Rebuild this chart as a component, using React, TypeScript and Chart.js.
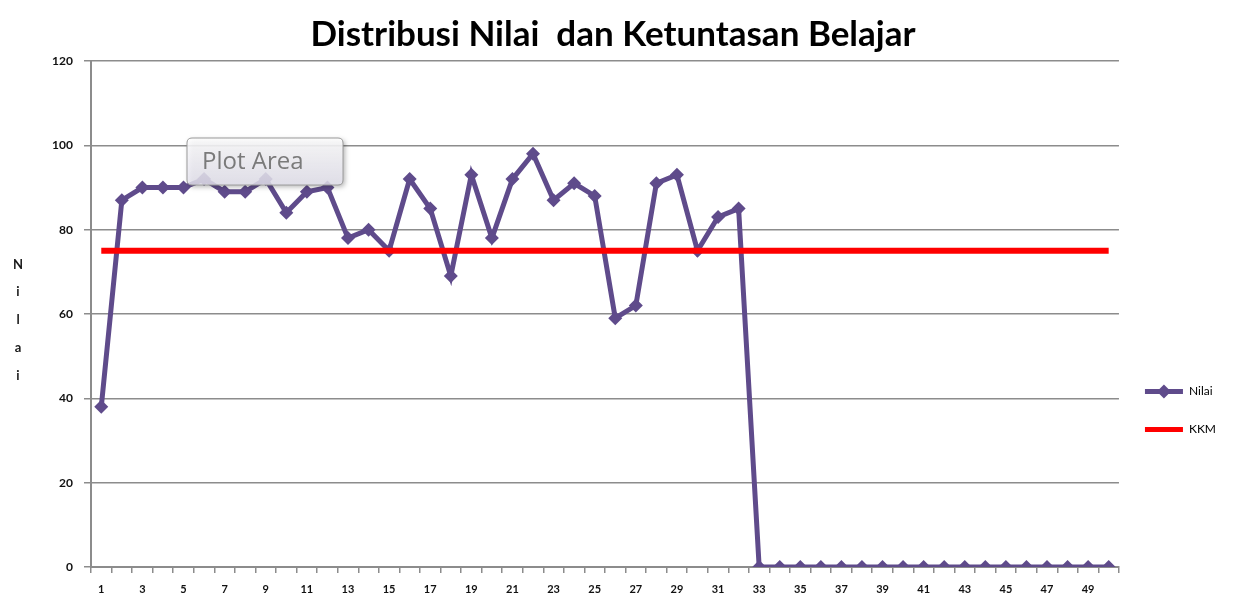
import { useEffect, useRef } from "react";
import { Chart, registerables } from "chart.js";

Chart.register(...registerables);

const categories = [
  "1", "2", "3", "4", "5", "6", "7", "8", "9", "10",
  "11", "12", "13", "14", "15", "16", "17", "18", "19", "20",
  "21", "22", "23", "24", "25", "26", "27", "28", "29", "30",
  "31", "32", "33", "34", "35", "36", "37", "38", "39", "40",
  "41", "42", "43", "44", "45", "46", "47", "48", "49", "50",
];

const nilaiValues = [
  38, 87, 90, 90, 90, 92, 89, 89, 92, 84,
  89, 90, 78, 80, 75, 92, 85, 69, 93, 78,
  92, 98, 87, 91, 88, 59, 62, 91, 93, 75,
  83, 85, 0, 0, 0, 0, 0, 0, 0, 0,
  0, 0, 0, 0, 0, 0, 0, 0, 0, 0,
];

const kkmValues = [
  75, 75, 75, 75, 75, 75, 75, 75, 75, 75,
  75, 75, 75, 75, 75, 75, 75, 75, 75, 75,
  75, 75, 75, 75, 75, 75, 75, 75, 75, 75,
  75, 75, 75, 75, 75, 75, 75, 75, 75, 75,
  75, 75, 75, 75, 75, 75, 75, 75, 75, 75,
];

const yTicks = [0, 20, 40, 60, 80, 100, 120];

const titleText = "Distribusi Nilai  dan Ketuntasan Belajar";
const yAxisTitle = "Nilai";
const seriesNames = ["Nilai", "KKM"];
const hoverLabel = "Plot Area";

const PURPLE = "#5F4B8B";
const RED = "#FF0000";
const GRID = "#8c8c8c";

export default function App() {
  const canvasRef = useRef<HTMLCanvasElement | null>(null);

  useEffect(() => {
    document.body.style.margin = "0";
    const canvas = canvasRef.current;
    if (!canvas) return;

    const customPlugin = {
      id: "customDecor",
      afterLayout(chart: any) {
        const lg = chart.legend;
        if (lg) {
          lg.top += 110;
          lg.bottom += 110;
        }
      },
      afterDraw(chart: any) {
        const ctx = chart.ctx;
        ctx.save();
        // Y axis title, stacked letters
        ctx.fillStyle = "#1a1a1a";
        ctx.font = "bold 13px Lato";
        ctx.textAlign = "center";
        ctx.textBaseline = "middle";
        const letters = yAxisTitle.split("");
        const ys = [265, 292, 320, 348, 376];
        letters.forEach((ch, i) => ctx.fillText(ch, 18, ys[i]));

        // legend marker for Nilai
        const lg = chart.legend;
        if (lg && lg.legendHitBoxes && lg.legendHitBoxes[0]) {
          const hb = lg.legendHitBoxes[0];
          const cx = hb.left + 38 / 2;
          const cy = hb.top + hb.height / 2;
          ctx.fillStyle = PURPLE;
          ctx.beginPath();
          ctx.moveTo(cx, cy - 7);
          ctx.lineTo(cx + 7, cy);
          ctx.lineTo(cx, cy + 7);
          ctx.lineTo(cx - 7, cy);
          ctx.closePath();
          ctx.fill();
        }

        // "Plot Area" hover label
        const bx = 187, by = 138, bw = 156, bh = 47, r = 5;
        ctx.shadowColor = "rgba(0,0,0,0.35)";
        ctx.shadowBlur = 5;
        ctx.shadowOffsetX = 2;
        ctx.shadowOffsetY = 2;
        const grad = ctx.createLinearGradient(0, by, 0, by + bh);
        grad.addColorStop(0, "rgba(255,255,255,0.88)");
        grad.addColorStop(1, "rgba(232,230,242,0.82)");
        ctx.fillStyle = grad;
        ctx.beginPath();
        ctx.moveTo(bx + r, by);
        ctx.lineTo(bx + bw - r, by);
        ctx.quadraticCurveTo(bx + bw, by, bx + bw, by + r);
        ctx.lineTo(bx + bw, by + bh - r);
        ctx.quadraticCurveTo(bx + bw, by + bh, bx + bw - r, by + bh);
        ctx.lineTo(bx + r, by + bh);
        ctx.quadraticCurveTo(bx, by + bh, bx, by + bh - r);
        ctx.lineTo(bx, by + r);
        ctx.quadraticCurveTo(bx, by, bx + r, by);
        ctx.closePath();
        ctx.fill();
        ctx.shadowColor = "transparent";
        ctx.strokeStyle = "#9a9a9a";
        ctx.lineWidth = 1;
        ctx.stroke();
        ctx.fillStyle = "#7a7a7a";
        ctx.font = "24px 'Open Sans'";
        ctx.textAlign = "left";
        ctx.fillText(hoverLabel, 202, 162);
        ctx.restore();
      },
    };

    const chart = new Chart(canvas, {
      type: "line",
      data: {
        labels: categories,
        datasets: [
          {
            label: seriesNames[0],
            data: nilaiValues,
            borderColor: PURPLE,
            backgroundColor: PURPLE,
            borderWidth: 5,
            pointStyle: "rectRot",
            pointRadius: 7,
            pointBackgroundColor: PURPLE,
            pointBorderColor: PURPLE,
            pointBorderWidth: 0,
            tension: 0,
            order: 1,
          },
          {
            label: seriesNames[1],
            data: kkmValues,
            borderColor: RED,
            backgroundColor: RED,
            borderWidth: 6,
            pointRadius: 0,
            tension: 0,
            order: 0,
          },
        ],
      },
      options: {
        responsive: false,
        animation: false,
        events: [],
        layout: { padding: { left: 0, right: 17, top: 0, bottom: 0 } },
        plugins: {
          title: {
            display: true,
            text: titleText,
            color: "#000",
            font: { family: "Lato", size: 35, weight: "bold" },
            padding: { top: 14, bottom: 5 },
          },
          legend: {
            display: true,
            position: "right",
            align: "center",
            labels: {
              boxWidth: 38,
              boxHeight: 5,
              padding: 26,
              color: "#000",
              font: { family: "Lato", size: 12 },
              sort: (a: any, b: any) => a.datasetIndex - b.datasetIndex,
              generateLabels: (chart: any) =>
                chart.data.datasets.map((ds: any, i: number) => ({
                  text: ds.label,
                  fillStyle: ds.borderColor,
                  strokeStyle: ds.borderColor,
                  lineWidth: 0,
                  hidden: false,
                  datasetIndex: i,
                })),
            },
          },
          tooltip: { enabled: false },
        },
        scales: {
          x: {
            type: "category",
            offset: true,
            afterFit: (scale: any) => {
              scale.height = 34;
            },
            grid: {
              display: true,
              offset: true,
              drawOnChartArea: false,
              drawTicks: true,
              tickLength: 6,
              color: GRID,
              lineWidth: 1.5,
            },
            border: { display: true, color: GRID, width: 2 },
            ticks: {
              autoSkip: false,
              maxRotation: 0,
              minRotation: 0,
              padding: 10,
              color: "#111",
              font: { family: "Lato", size: 11, weight: "bold" },
              callback: (_v: any, i: number) => (i % 2 === 0 ? categories[i] : ""),
            },
          },
          y: {
            min: 0,
            max: 120,
            afterFit: (scale: any) => {
              scale.width = 91;
            },
            afterBuildTicks: (scale: any) => {
              scale.ticks = yTicks.map((v) => ({ value: v }));
            },
            grid: {
              display: true,
              drawOnChartArea: true,
              drawTicks: true,
              tickLength: 7,
              color: GRID,
              lineWidth: 1.5,
            },
            border: { display: true, color: GRID, width: 2 },
            ticks: {
              padding: 11,
              color: "#111",
              font: { family: "Lato", size: 12, weight: "bold" },
            },
          },
        },
      },
      plugins: [customPlugin],
    } as any);

    return () => {
      chart.destroy();
    };
  }, []);

  return (
    <div style={{ width: 1243, height: 601, background: "#fff" }}>
      <canvas ref={canvasRef} width={1243} height={601} />
    </div>
  );
}
